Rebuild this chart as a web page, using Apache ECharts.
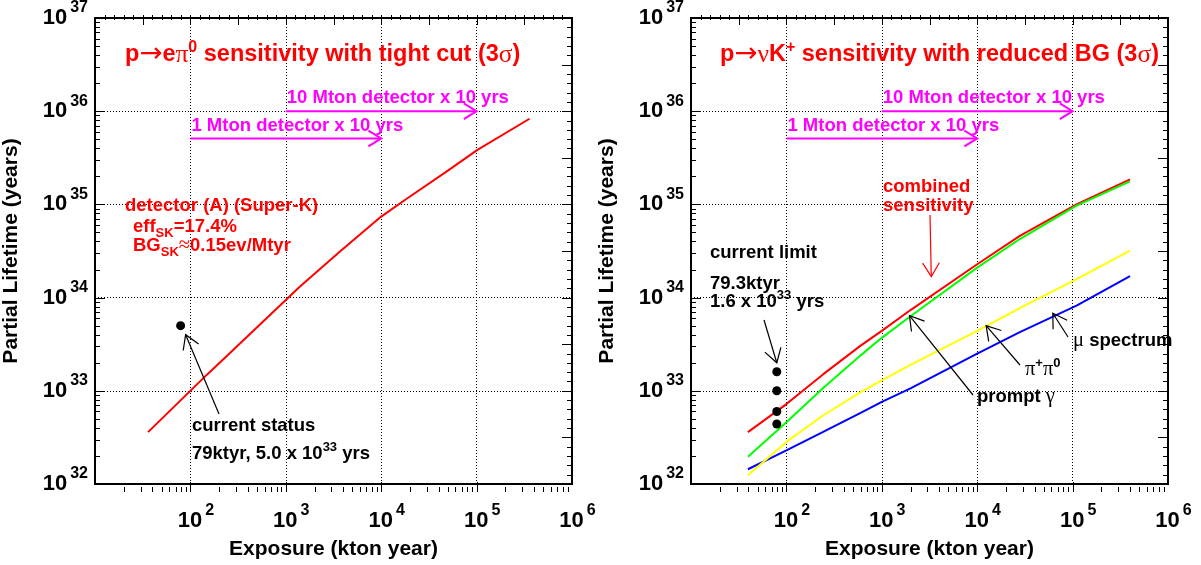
<!DOCTYPE html>
<html>
<head>
<meta charset="utf-8">
<script src="https://cdn.jsdelivr.net/npm/echarts@6/dist/echarts.min.js"></script>
<style>
html, body { margin: 0; padding: 0; background: #fff; }
#chart { width: 1201px; height: 565px; }
</style>
</head>
<body>
<div id="chart"></div>
<script>
// ---- axis ranges (kton year, years) ----
const X_MIN = 10, X_MAX = 1e6;
const Y_MIN = 1e32, Y_MAX = 1e37;

// ---- p -> e pi0 sensitivity (left panel) ----
const epiExposure = [36, 149, 247, 1400, 3670, 10000, 18500, 50000, 102000, 359000];
const epiLifetime = [3.6e32, 1.49e33, 2.42e33, 1.31e34, 3.1e34, 7.4e34, 1.15e35, 2.3e35, 3.85e35, 8.3e35];
const epiCurrentExposure = [79];
const epiCurrentLimit = [5.0e33];

// ---- p -> nu K+ sensitivity (right panel) ----
const nukExposure = [39.5, 100, 240, 600, 1000, 2000, 10000, 28000, 110000, 400000];
const nukCombined = [3.6e32, 7.2e32, 1.49e33, 3.05e33, 4.4e33, 7.35e33, 2.28e34, 4.6e34, 1.0e35, 1.86e35];
const nukPromptGamma = [1.96e32, 4.6e32, 1.06e33, 2.4e33, 3.7e33, 6.3e33, 2.1e34, 4.25e34, 9.7e34, 1.77e35];
const nukPiPi0 = [1.24e32, 2.83e32, 5.4e32, 9.7e32, 1.29e33, 1.9e33, 4.4e33, 7.7e33, 1.58e34, 3.2e34];
const nukMuSpectrum = [1.44e32, 2.3e32, 3.6e32, 5.8e32, 7.6e32, 1.06e33, 2.5e33, 4.27e33, 8.2e33, 1.7e34];
const nukCurrentExposure = [79.3, 79.3, 79.3, 79.3];
const nukCurrentLimit = [1.6e33, 1.0e33, 6.0e32, 4.4e32];

// ---- detector exposure ranges (kton year) ----
const range1Mton = [1e2, 1e4];
const range10Mton = [1e3, 1e5];
const range1MtonY = 5.1e35;
const range10MtonY = 1e36;

const FONT = 'Liberation Sans';
const SYM = 'Liberation Serif';
const RED = '#ff0000', GREEN = '#00ff00', YELLOW = '#ffff00', BLUE = '#0000ff', MAGENTA = '#ff00ff';

// panel frames (pixels)
const PANELS = [
  { left: 95, top: 15, width: 477, height: 477 },
  { left: 691, top: 15, width: 477, height: 477 }
];

const zip = (xs, ys) => xs.map((x, i) => [x, ys[i]]);

function powLabel(v, isX) {
  const e = Math.round(Math.log10(v));
  if (isX && e === 1) return '';
  return (isX ? '{p|}' : '') + '{b|10}{s|' + e + '}';
}
const labelRich = {
  p: { width: 11 },
  b: { fontFamily: FONT, fontWeight: 'bold', fontSize: 22, lineHeight: 36, color: '#000' },
  s: { fontFamily: FONT, fontWeight: 'bold', fontSize: 16, lineHeight: 14, color: '#000', verticalAlign: 'top', padding: [0, 0, 0, 3] }
};
const gridLine = { show: true, lineStyle: { color: '#000', width: 1, type: [1, 2] } };
const nameStyle = { fontFamily: FONT, fontWeight: 'bold', fontSize: 21, color: '#000' };

function xAxisFor(gi) {
  return {
    type: 'log', logBase: 10, gridIndex: gi, position: 'bottom', min: X_MIN, max: X_MAX, interval: 1,
    name: 'Exposure (kton year)', nameLocation: 'middle', nameGap: 55, nameTextStyle: nameStyle,
    axisLine: { show: false }, axisTick: { show: false },
    axisLabel: { margin: 19, formatter: v => powLabel(v, true), rich: labelRich },
    splitLine: gridLine
  };
}
function yAxisFor(gi) {
  return {
    type: 'log', logBase: 10, gridIndex: gi, position: 'left', min: Y_MIN, max: Y_MAX, interval: 1,
    name: 'Partial Lifetime (years)', nameLocation: 'middle', nameGap: 73, nameTextStyle: nameStyle,
    axisLine: { show: false }, axisTick: { show: false },
    axisLabel: { margin: 7, formatter: v => powLabel(v, false), rich: labelRich },
    splitLine: gridLine
  };
}

function curve(gi, xs, ys, color, z) {
  return {
    type: 'line', xAxisIndex: gi, yAxisIndex: gi, data: zip(xs, ys),
    showSymbol: false, symbol: 'none', smooth: false, z: z || 2,
    lineStyle: { color, width: 2 }, emphasis: { disabled: true }, silent: true
  };
}
function dots(gi, xs, ys) {
  return {
    type: 'scatter', xAxisIndex: gi, yAxisIndex: gi, data: zip(xs, ys),
    symbol: 'circle', symbolSize: 9, itemStyle: { color: '#000', opacity: 1 }, z: 5, silent: true,
    emphasis: { disabled: true }
  };
}

const chart = echarts.init(document.getElementById('chart'), null, { renderer: 'canvas' });

chart.setOption({
  animation: false,
  backgroundColor: '#fff',
  grid: PANELS.map(p => Object.assign({ show: true, borderColor: '#000', borderWidth: 2, backgroundColor: 'transparent' }, p)),
  xAxis: [xAxisFor(0), xAxisFor(1)],
  yAxis: [yAxisFor(0), yAxisFor(1)],
  series: [
    curve(0, epiExposure, epiLifetime, RED),
    dots(0, epiCurrentExposure, epiCurrentLimit),
    curve(1, nukExposure, nukMuSpectrum, BLUE),
    curve(1, nukExposure, nukPiPi0, YELLOW),
    curve(1, nukExposure, nukCombined, RED),
    curve(1, nukExposure, nukPromptGamma, GREEN, 3),
    dots(1, nukCurrentExposure, nukCurrentLimit)
  ]
});

const px = (gi, x, y) => chart.convertToPixel({ gridIndex: gi }, [x, y]);
// pixel position of an exposure / lifetime value, read through the axes
function xPix(gi, v) {
  const p = px(gi, v, 1e34);
  if (p && isFinite(p[0])) return p[0];
  const f = PANELS[gi];
  return f.left + (Math.log10(v) - Math.log10(X_MIN)) / (Math.log10(X_MAX) - Math.log10(X_MIN)) * f.width;
}
function yPix(gi, v) {
  const p = px(gi, 1000, v);
  if (p && isFinite(p[1])) return p[1];
  const f = PANELS[gi];
  return f.top + f.height - (Math.log10(v) - Math.log10(Y_MIN)) / (Math.log10(Y_MAX) - Math.log10(Y_MIN)) * f.height;
}

const g = [];

function seg(x1, y1, x2, y2) {
  g.push({ type: 'polyline', shape: { points: [[x1, y1], [x2, y2]] }, style: { stroke: '#000', lineWidth: 1, fill: null }, z: 20, silent: true });
}

// frame ticks: 1..9 x 10^n on bottom/left, every 0.1 decade on top/right
function frameTicks(gi) {
  const f = PANELS[gi];
  const L = f.left, T = f.top, R = f.left + f.width, B = f.top + f.height;
  for (let e = 1; e <= 5; e++) {
    for (let m = 1; m <= 9; m++) {
      if (e === 1 && m === 1) continue;
      const x = Math.round(xPix(gi, m * Math.pow(10, e))) + 0.5;
      seg(x, B, x, B - (m === 1 ? 10 : 5));
    }
  }
  for (let e = 32; e <= 36; e++) {
    for (let m = 1; m <= 9; m++) {
      if (e === 32 && m === 1) continue;
      const y = Math.round(yPix(gi, m * Math.pow(10, e))) + 0.5;
      seg(L, y, L + (m === 1 ? 10 : 5), y);
    }
  }
  for (let k = 11; k < 60; k++) {
    const x = Math.round(xPix(gi, Math.pow(10, k / 10))) + 0.5;
    seg(x, T, x, T + (k % 5 === 0 ? 10 : 5));
  }
  for (let k = 321; k < 370; k++) {
    const y = Math.round(yPix(gi, Math.pow(10, k / 10))) + 0.5;
    seg(R, y, R - (k % 5 === 0 ? 10 : 5), y);
  }
}
frameTicks(0);
frameTicks(1);

function arrow(p0, p1, color, width, head) {
  const hl = head || 14, ang = 0.55;
  const a = Math.atan2(p1[1] - p0[1], p1[0] - p0[0]);
  const h1 = [p1[0] - hl * Math.cos(a - ang), p1[1] - hl * Math.sin(a - ang)];
  const h2 = [p1[0] - hl * Math.cos(a + ang), p1[1] - hl * Math.sin(a + ang)];
  g.push({ type: 'polyline', shape: { points: [p0, p1] }, style: { stroke: color, lineWidth: width, fill: null }, z: 20, silent: true });
  g.push({ type: 'polyline', shape: { points: [h1, p1, h2] }, style: { stroke: color, lineWidth: width, fill: null }, z: 20, silent: true });
}

function label(x, y, text, color, size) {
  const r = {
    t: { fontFamily: FONT, fontWeight: 'bold', fontSize: size, fill: color, lineHeight: size + 8 },
    g: { fontFamily: SYM, fontSize: size + 2, fill: color, lineHeight: size + 8 },
    ar: { fontFamily: 'DejaVu Sans', fontSize: size + 4, fill: color, lineHeight: size + 8 },
    sup: { fontFamily: FONT, fontWeight: 'bold', fontSize: Math.round(size * 0.7), fill: color, lineHeight: 12, verticalAlign: 'top' },
    sub: { fontFamily: FONT, fontWeight: 'bold', fontSize: Math.round(size * 0.7), fill: color, lineHeight: 12, verticalAlign: 'bottom' }
  };
  g.push({
    type: 'text', x, y, z: 20, silent: true,
    style: { text, fill: color, align: 'left', verticalAlign: 'middle', rich: r }
  });
}

// titles
label(125, 55, '{t|p}{ar|→}{t|e}{g|π}{sup|0}{t| sensitivity with tight cut (3}{g|σ}{t|)}', RED, 23.5);
label(720, 55, '{t|p}{ar|→}{g|ν}{t|K}{sup|+}{t| sensitivity with reduced BG (3}{g|σ}{t|)}', RED, 23.5);

// detector exposure ranges
[0, 1].forEach(gi => {
  const a0 = px(gi, range10Mton[0], range10MtonY), a1 = px(gi, range10Mton[1], range10MtonY);
  const b0 = px(gi, range1Mton[0], range1MtonY), b1 = px(gi, range1Mton[1], range1MtonY);
  arrow(a0, a1, MAGENTA, 2, 15);
  arrow(b0, b1, MAGENTA, 2, 15);
  label(a0[0] + 1, a0[1] - 13, '{t|10 Mton detector x 10 yrs}', MAGENTA, 18.5);
  label(b0[0] + 1, b0[1] - 13, '{t|1 Mton detector x 10 yrs}', MAGENTA, 18.5);
});

// left panel notes
label(125, 206, '{t|detector (A) (Super-K)}', RED, 18.5);
label(133, 227, '{t|eff}{sub|SK}{t|=17.4%}', RED, 18.5);
label(133, 246, '{t|BG}{sub|SK}{g|≈}{t|0.15ev/Mtyr}', RED, 18.5);
const epiDot = px(0, epiCurrentExposure[0], epiCurrentLimit[0]);
arrow([219, 414], [epiDot[0] + 5, epiDot[1] + 9], '#000', 1.2, 16);
label(192, 426, '{t|current status}', '#000', 18.5);
label(192, 454, '{t|79ktyr, 5.0 x 10}{sup|33}{t| yrs}', '#000', 18.5);

// right panel notes
label(883, 187, '{t|combined}', RED, 18.5);
label(883, 206, '{t|sensitivity}', RED, 18.5);
const combTip = px(1, 3300, 1.45e34);
arrow([930, 215], [combTip[0], combTip[1] - 6], RED, 1.2, 16);

label(710, 253, '{t|current limit}', '#000', 18.5);
label(710, 284, '{t|79.3ktyr}', '#000', 18.5);
label(710, 302, '{t|1.6 x 10}{sup|33}{t| yrs}', '#000', 18.5);
const limTop = px(1, nukCurrentExposure[0], nukCurrentLimit[0]);
arrow([764, 320], [limTop[0], limTop[1] - 9], '#000', 1.2, 16);

const pgTip = px(1, 1950, 6.4e33);
arrow([973, 395], pgTip, '#000', 1.2, 16);
label(977, 397, '{t|prompt }{g|γ}', '#000', 18.5);

const ppTip = px(1, 12400, 5.0e33);
arrow([1020, 365], ppTip, '#000', 1.2, 16);
label(1025, 370, '{g|π}{sup|+}{g|π}{sup|0}', '#000', 18.5);

const muTip = px(1, 62000, 6.8e33);
arrow([1068, 337], muTip, '#000', 1.2, 16);
label(1073, 341, '{g|μ}{t| spectrum}', '#000', 18.5);

chart.setOption({ graphic: g });
</script>
</body>
</html>
